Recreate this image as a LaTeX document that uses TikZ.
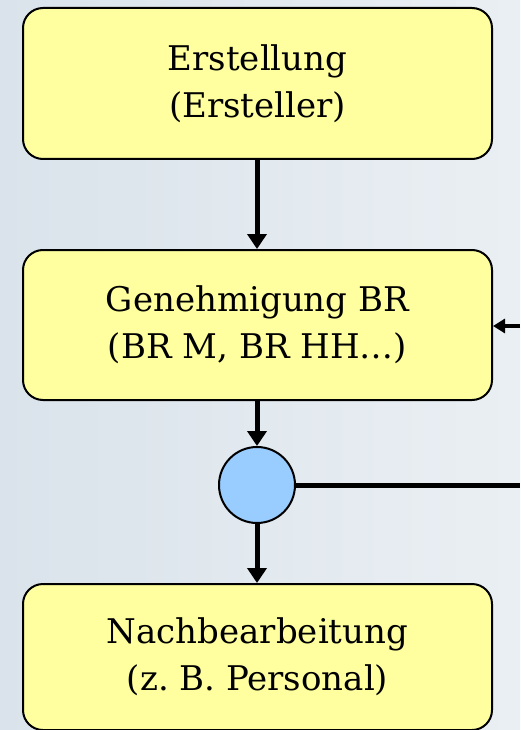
\documentclass[tikz,border=0pt]{standalone}
\usepackage{fontspec}
\setmainfont{DejaVu Serif}
\usetikzlibrary{arrows.meta}
\definecolor{bgA}{RGB}{218,227,235}
\definecolor{bgB}{RGB}{234,239,243}
\definecolor{boxfill}{RGB}{255,255,160}
\definecolor{circfill}{RGB}{153,204,255}
\tikzset{
  stepbox/.style={draw=black, line width=2pt, fill=boxfill, rounded corners=20pt,
    minimum width=469pt, align=center, font=\fontsize{34}{47}\selectfont, inner sep=0pt},
  junction/.style={draw=black, line width=2pt, fill=circfill, circle, minimum size=76pt, inner sep=0pt},
  flow/.style={line width=5pt, -{Triangle[width=19pt,length=15pt]}},
  feed/.style={line width=3.5pt, -{Triangle[width=14pt,length=12pt]}},
  plain/.style={line width=5pt}
}
\begin{document}
\begin{tikzpicture}[x=1pt,y=-1pt]
\useasboundingbox (0,0) rectangle (520,730);
\shade[left color=bgA, right color=bgB] (0,0) rectangle (520,730);
\node[stepbox, minimum height=151pt] (b1) at (257.5,83.5) {Erstellung\\(Ersteller)};
\node[stepbox, minimum height=150pt] (b2) at (257.5,325) {Genehmigung BR\\(BR M, BR HH…)};
\node[junction] (j) at (257,485) {};
\node[stepbox, minimum height=146pt] (b3) at (257.5,657) {Nachbearbeitung\\(z.\ B.\ Personal)};
\coordinate (rin) at (520,326);
\coordinate (rout) at (520,485);
\draw[flow] (b1.south -| j.north) -- (b2.north -| j.north);
\draw[flow] (b2.south -| j.north) -- (j.north);
\draw[flow] (j.south) -- (b3.north -| j.south);
\draw[plain] (j.east) -- (rout);
\draw[feed] (rin) -- (rin -| b2.east);
\end{tikzpicture}
\end{document}
